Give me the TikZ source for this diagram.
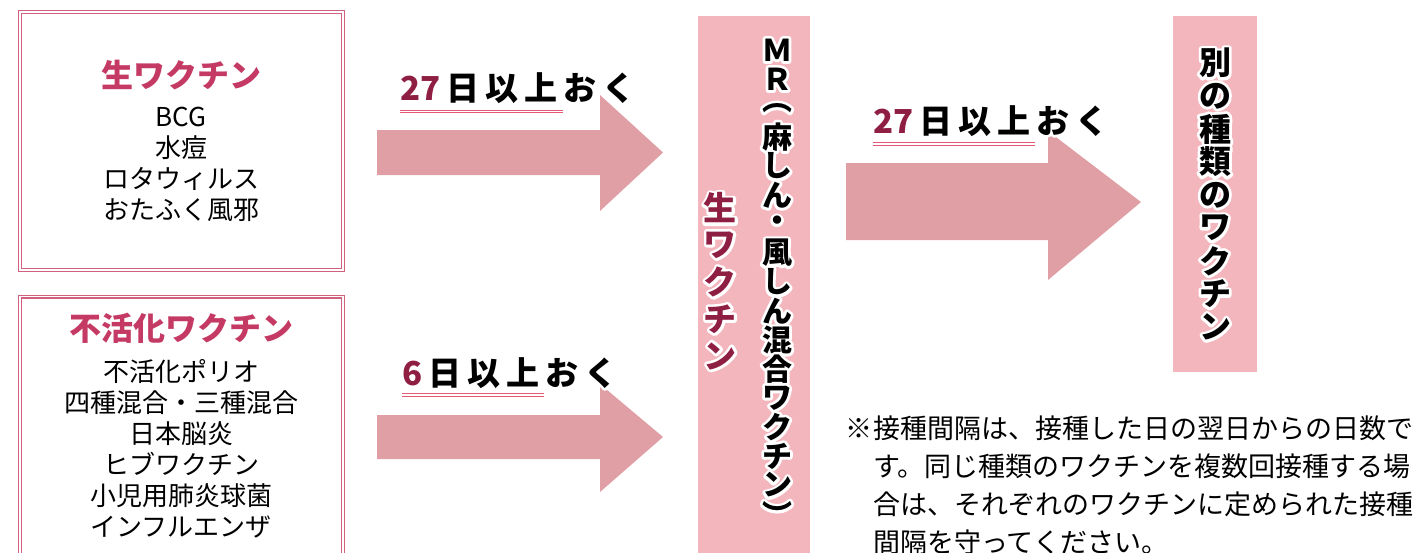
\documentclass[tikz,border=0pt]{standalone}
\usepackage{fontspec}
\setmainfont{Noto Sans CJK JP}
\usetikzlibrary{positioning, calc}
\definecolor{frame pink}{RGB}{208,96,126}
\definecolor{arrow pink}{RGB}{224,159,165}
\definecolor{column pink}{RGB}{244,182,189}
\definecolor{title red}{RGB}{196,58,100}
\definecolor{day red}{RGB}{142,30,66}
\definecolor{rule red}{RGB}{232,88,118}
% white outline behind a text: stroked copy first, filled copy on top
\newcommand\halo[1]{\rlap{\special{pdf:literal direct 1 Tr 5.5 w 1 J 1 j 1 1 1 RG}#1\special{pdf:literal direct 0 Tr}}#1}
\tikzset{framebox/.style={draw=frame pink, double=white, line width=1.3pt, double distance=1.5pt, inner sep=0pt}}
\tikzset{bigarrow/.style={fill=arrow pink}}
\tikzset{column/.style={fill=column pink, inner sep=0pt, anchor=north west}}
\tikzset{boxtitle/.style={text=title red, font=\fontsize{32}{32}\selectfont\bfseries}}
\tikzset{boxlist/.style={align=center, font=\fontsize{26}{31}\selectfont}}
\tikzset{daylabel/.style={anchor=base west, inner sep=0pt, font=\fontsize{33}{33}\selectfont\bfseries}}
\tikzset{dayrule/.style={draw=rule red, double=white, line width=1.1pt, double distance=1.4pt}}
\tikzset{vchar/.style={inner sep=0pt, font=\fontsize{30}{30}\selectfont\bfseries}}
\newcommand\wait{\kern6pt\halo{日}\kern6pt\halo{以}\kern6pt\halo{上}\kern6pt\halo{お}\kern6pt\halo{く}}

\begin{document}
\begin{tikzpicture}[x=1pt, y=-1pt]
\clip (0,0) rectangle (1421,552);
% left boxes
\node[framebox, minimum width=323, minimum height=258] (livebox) at (181.5,141) {};
\node[boxtitle] (livetitle) at (181,75) {生ワクチン};
\node[boxlist] (livelist) at (181,164) {BCG\\水痘\\ロタウィルス\\おたふく風邪};
\node[framebox, minimum width=323, minimum height=280, anchor=north] (inactbox) at (181.5,296) {};
\node[boxtitle] (inacttitle) at (181,328) {不活化ワクチン};
\node[boxlist] (inactlist) at (181,449) {不活化ポリオ\\四種混合・三種混合\\日本脳炎\\ヒブワクチン\\小児用肺炎球菌\\インフルエンザ};
% arrows
\fill[bigarrow] (377,130) -- (600,130) -- (600,95) -- (663,152.5) -- (600,211) -- (600,175) -- (377,175) -- cycle;
\fill[bigarrow] (377,415) -- (600,415) -- (600,384) -- (663,437) -- (600,492) -- (600,459) -- (377,459) -- cycle;
\fill[bigarrow] (846,163) -- (1048,163) -- (1048,131) -- (1141,202) -- (1048,280) -- (1048,240) -- (846,240) -- cycle;
% day labels
\node[daylabel] (dayone) at (400,100) {\textcolor{day red}{\halo{27}}\wait};
\draw[dayrule] (400,111.5) -- (563,111.5);
\node[daylabel] (daytwo) at (402,385) {\textcolor{day red}{\halo{6}}\wait};
\draw[dayrule] (402,395) -- (544,395);
\node[daylabel] (daythree) at (873,133) {\textcolor{day red}{\halo{27}}\wait};
\draw[dayrule] (873,144) -- (1035,144);
% vertical columns
\node[column, minimum width=112, minimum height=560] (mrbox) at (698,16) {};
\foreach \ch [count=\i from 0] in {Ｍ,Ｒ,︵,麻,し,ん,・,風,し,ん,混,合,ワ,ク,チ,ン,︶}
  \node[vchar] (mr\i) at (777,50+29*\i) {\halo{\ch}};
\foreach \ch [count=\i from 0] in {生,ワ,ク,チ,ン}
  \node[vchar, text=day red, font=\fontsize{33}{33}\selectfont\bfseries] (live\i) at (720,208+37*\i) {\halo{\ch}};
\node[column, minimum width=84, minimum height=356] (otherbox) at (1173,16) {};
\foreach \ch [count=\i from 0] in {別,の,種,類,の,ワ,ク,チ,ン}
  \node[vchar, font=\fontsize{32}{32}\selectfont\bfseries] (other\i) at (1215,63+33*\i) {\halo{\ch}};
% note
\node[anchor=base west, align=left, inner sep=0pt, font=\fontsize{27}{38}\selectfont] (note) at (873,552)
  {接種間隔は、接種した日の翌日からの日数で\\す。同じ種類のワクチンを複数回接種する場\\合は、それぞれのワクチンに定められた接種\\間隔を守ってください。};
\node[anchor=base east, inner sep=0pt, font=\fontsize{27}{38}\selectfont] (mark) at (873,438) {※};
\end{tikzpicture}
\end{document}
